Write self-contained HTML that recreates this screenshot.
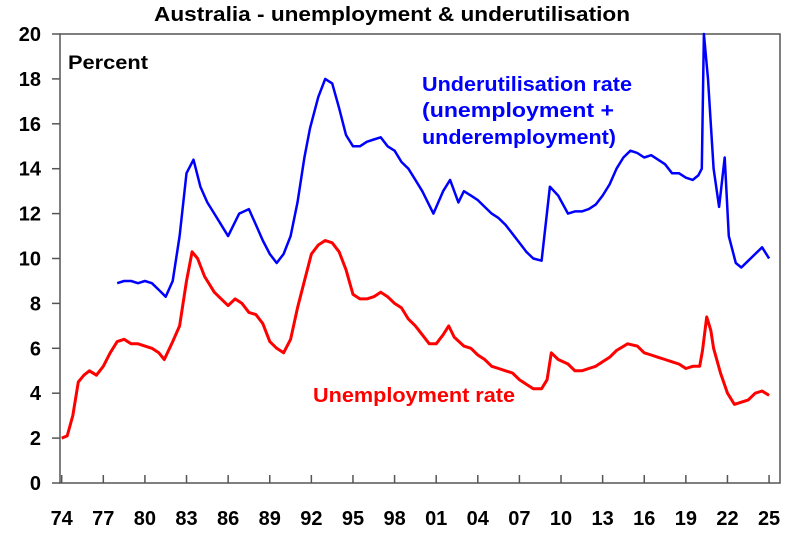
<!DOCTYPE html>
<html><head><meta charset="utf-8"><style>
body{margin:0;background:#fff}
svg{display:block;font-family:"Liberation Sans",Arial,sans-serif;font-weight:bold}
</style></head><body>
<svg id="chart" width="800" height="533" viewBox="0 0 800 533">
<text x="392" y="21" text-anchor="middle" font-size="20" textLength="476" lengthAdjust="spacingAndGlyphs">Australia - unemployment &amp; underutilisation</text>
<g id="yaxis"></g>
<g id="xaxis"></g>
<rect x="60" y="34" width="720" height="449" fill="none" stroke="#555" stroke-width="1.5"/>
<text x="68" y="69" font-size="19" textLength="80" lengthAdjust="spacingAndGlyphs">Percent</text>
<path id="blueLine" fill="none" stroke="#0000ff" stroke-width="2.5" stroke-linejoin="round"/>
<path id="redLine" fill="none" stroke="#ff0000" stroke-width="3" stroke-linejoin="round"/>
<g fill="#0000ff" font-size="20">
<text x="422" y="91" textLength="210" lengthAdjust="spacingAndGlyphs">Underutilisation rate</text>
<text x="422" y="117" textLength="192" lengthAdjust="spacingAndGlyphs">(unemployment +</text>
<text x="422" y="144" textLength="194" lengthAdjust="spacingAndGlyphs">underemployment)</text>
</g>
<text x="313" y="402" fill="#ff0000" font-size="20" textLength="202" lengthAdjust="spacingAndGlyphs">Unemployment rate</text>
</svg>
<script>
const yTicks=[0,2,4,6,8,10,12,14,16,18,20];
const xTickYears=[1974,1977,1980,1983,1986,1989,1992,1995,1998,2001,2004,2007,2010,2013,2016,2019,2022,2025];
const xTickLabels=["74","77","80","83","86","89","92","95","98","01","04","07","10","13","16","19","22","25"];
const unempYears=[1974,1974.4,1974.8,1975.2,1975.6,1976,1976.5,1977,1977.5,1978,1978.5,1979,1979.5,1980,1980.5,1981,1981.4,1982,1982.5,1983,1983.4,1983.8,1984.3,1985,1985.5,1986,1986.5,1987,1987.5,1988,1988.5,1989,1989.5,1990,1990.5,1991,1991.5,1992,1992.5,1993,1993.5,1994,1994.5,1995,1995.5,1996,1996.5,1997,1997.5,1998,1998.5,1999,1999.5,2000,2000.5,2001,2001.5,2001.9,2002.3,2003,2003.5,2004,2004.5,2005,2005.5,2006,2006.5,2007,2007.5,2008,2008.6,2009,2009.3,2009.8,2010.5,2011,2011.5,2012,2012.5,2013,2013.5,2014,2014.8,2015.5,2016,2016.5,2017,2017.5,2018,2018.5,2019,2019.5,2020,2020.2,2020.5,2020.8,2021,2021.5,2022,2022.5,2023,2023.5,2024,2024.5,2025];
const unempValues=[2.0,2.1,3.0,4.5,4.8,5.0,4.8,5.2,5.8,6.3,6.4,6.2,6.2,6.1,6.0,5.8,5.5,6.3,7.0,9.0,10.3,10.0,9.2,8.5,8.2,7.9,8.2,8.0,7.6,7.5,7.1,6.3,6.0,5.8,6.4,7.8,9.0,10.2,10.6,10.8,10.7,10.3,9.5,8.4,8.2,8.2,8.3,8.5,8.3,8.0,7.8,7.3,7.0,6.6,6.2,6.2,6.6,7.0,6.5,6.1,6.0,5.7,5.5,5.2,5.1,5.0,4.9,4.6,4.4,4.2,4.2,4.6,5.8,5.5,5.3,5.0,5.0,5.1,5.2,5.4,5.6,5.9,6.2,6.1,5.8,5.7,5.6,5.5,5.4,5.3,5.1,5.2,5.2,5.9,7.4,6.8,6.0,4.9,4.0,3.5,3.6,3.7,4.0,4.1,3.9];
const underYears=[1978,1978.5,1979,1979.5,1980,1980.5,1981,1981.5,1982,1982.5,1983,1983.5,1984,1984.5,1985,1985.5,1986,1986.8,1987.5,1988,1988.5,1989,1989.5,1990,1990.5,1991,1991.5,1991.9,1992.5,1993,1993.5,1994,1994.5,1995,1995.5,1996,1996.5,1997,1997.5,1998,1998.5,1999,1999.5,2000,2000.8,2001.5,2002,2002.6,2003,2003.5,2004,2004.5,2005,2005.5,2006,2006.5,2007,2007.5,2008,2008.6,2009.2,2009.8,2010.5,2011,2011.5,2012,2012.5,2013,2013.5,2014,2014.5,2015,2015.5,2016,2016.5,2017,2017.5,2018,2018.5,2019,2019.5,2019.9,2020.15,2020.3,2020.6,2021,2021.4,2021.8,2022.1,2022.6,2023,2023.5,2024,2024.5,2025];
const underValues=[8.9,9.0,9.0,8.9,9.0,8.9,8.6,8.3,9.0,11.0,13.8,14.4,13.2,12.5,12.0,11.5,11.0,12.0,12.2,11.5,10.8,10.2,9.8,10.2,11.0,12.5,14.5,15.8,17.2,18.0,17.8,16.7,15.5,15.0,15.0,15.2,15.3,15.4,15.0,14.8,14.3,14.0,13.5,13.0,12.0,13.0,13.5,12.5,13.0,12.8,12.6,12.3,12.0,11.8,11.5,11.1,10.7,10.3,10.0,9.9,13.2,12.8,12.0,12.1,12.1,12.2,12.4,12.8,13.3,14.0,14.5,14.8,14.7,14.5,14.6,14.4,14.2,13.8,13.8,13.6,13.5,13.7,14.0,20.0,18.0,14.0,12.3,14.5,11.0,9.8,9.6,9.9,10.2,10.5,10.0];
const NS="http://www.w3.org/2000/svg";
const X0=61.7,PXY=13.87,Y0=483,PYU=22.45;
function xOf(y){return X0+(y-1974)*PXY;}
function yOf(v){return Y0-v*PYU;}
const ya=document.getElementById('yaxis');
yTicks.forEach(v=>{
 const l=document.createElementNS(NS,'line');
 l.setAttribute('x1',52);l.setAttribute('x2',60);l.setAttribute('y1',yOf(v));l.setAttribute('y2',yOf(v));l.setAttribute('stroke','#555');l.setAttribute('stroke-width',1.5);
 
 
 ya.appendChild(l);
 const t=document.createElementNS(NS,'text');
 t.setAttribute('x',41);t.setAttribute('y',yOf(v)+7);t.setAttribute('text-anchor','end');t.setAttribute('font-size','20');
 t.textContent=v;
 
 
 ya.appendChild(t);
});
const xa=document.getElementById('xaxis');
xTickYears.forEach((yr,i)=>{
 const l=document.createElementNS(NS,'line');
 l.setAttribute('x1',xOf(yr));l.setAttribute('x2',xOf(yr));l.setAttribute('y1',475);l.setAttribute('y2',483);l.setAttribute('stroke','#555');l.setAttribute('stroke-width',1.5);
 
 
 xa.appendChild(l);
 const t=document.createElementNS(NS,'text');
 t.setAttribute('x',xOf(yr));t.setAttribute('y',525);t.setAttribute('text-anchor','middle');t.setAttribute('font-size','20');
 t.textContent=xTickLabels[i];
 
 
 xa.appendChild(t);
});
function path(xs,vs){return xs.map((y,i)=>(i?'L':'M')+xOf(y).toFixed(1)+','+yOf(vs[i]).toFixed(1)).join(' ');}
document.getElementById('redLine').setAttribute('d',path(unempYears,unempValues));
document.getElementById('blueLine').setAttribute('d',path(underYears,underValues));
</script>
</body></html>
